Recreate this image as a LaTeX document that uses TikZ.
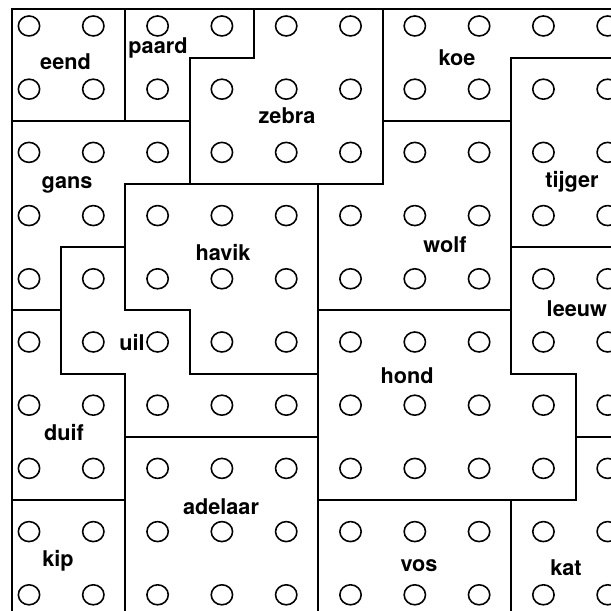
\documentclass[tikz,border=0pt]{standalone}
\usepackage{fontspec}
\setmainfont{TeX Gyre Heros}
\begin{document}
\begin{tikzpicture}[
  x=1.929cm, y=-1.896cm,
  wall/.style={line width=1.7pt, line join=miter},
  peg/.style={line width=1.35pt},
  lab/.style={font=\fontsize{18.5}{20}\selectfont\bfseries, anchor=base, inner sep=0pt}]
\useasboundingbox (-0.451,-0.411) rectangle (9.051,9.241);
\clip (-0.451,-0.411) rectangle (9.051,9.241);
\foreach \i in {0,...,9}
  \foreach \j in {0,...,9}
    \draw[peg] (\i,\j) ellipse[x radius=0.32cm, y radius=0.30cm];
\draw[wall] (-0.26,-0.27) rectangle (1.5,1.5);
\draw[wall] (1.5,-0.27) -- (3.5,-0.27) -- (3.5,0.5) -- (2.5,0.5) -- (2.5,1.5) -- (1.5,1.5) -- cycle;
\draw[wall] (3.5,-0.27) -- (5.5,-0.27) -- (5.5,2.5) -- (2.5,2.5) -- (2.5,0.5) -- (3.5,0.5) -- cycle;
\draw[wall] (5.5,-0.27) -- (9.7,-0.27) -- (9.7,0.5) -- (7.5,0.5) -- (7.5,1.5) -- (5.5,1.5) -- cycle;
\draw[wall] (7.5,0.5) rectangle (9.7,3.5);
\draw[wall] (-0.26,1.5) -- (2.5,1.5) -- (2.5,2.5) -- (1.5,2.5) -- (1.5,3.5) -- (0.5,3.5) -- (0.5,4.5) -- (-0.26,4.5) -- cycle;
\draw[wall] (1.5,2.5) -- (4.5,2.5) -- (4.5,5.5) -- (2.5,5.5) -- (2.5,4.5) -- (1.5,4.5) -- cycle;
\draw[wall] (5.5,1.5) -- (7.5,1.5) -- (7.5,4.5) -- (4.5,4.5) -- (4.5,2.5) -- (5.5,2.5) -- cycle;
\draw[wall] (7.5,3.5) -- (9.7,3.5) -- (9.7,6.5) -- (8.5,6.5) -- (8.5,5.5) -- (7.5,5.5) -- cycle;
\draw[wall] (0.5,3.5) -- (1.5,3.5) -- (1.5,4.5) -- (2.5,4.5) -- (2.5,5.5) -- (4.5,5.5) -- (4.5,6.5) -- (1.5,6.5) -- (1.5,5.5) -- (0.5,5.5) -- cycle;
\draw[wall] (-0.26,4.5) -- (0.5,4.5) -- (0.5,5.5) -- (1.5,5.5) -- (1.5,7.5) -- (-0.26,7.5) -- cycle;
\draw[wall] (4.5,4.5) -- (7.5,4.5) -- (7.5,5.5) -- (8.5,5.5) -- (8.5,7.5) -- (4.5,7.5) -- cycle;
\draw[wall] (1.5,6.5) rectangle (4.5,9.7);
\draw[wall] (-0.26,7.5) rectangle (1.5,9.7);
\draw[wall] (4.5,7.5) rectangle (7.5,9.7);
\draw[wall] (8.5,6.5) -- (9.7,6.5) -- (9.7,9.7) -- (7.5,9.7) -- (7.5,7.5) -- (8.5,7.5) -- cycle;
\node[lab] (eend) at (0.568,0.696) {eend};
\node[lab] (paard) at (2.006,0.443) {paard};
\node[lab] (zebra) at (4.012,1.551) {zebra};
\node[lab] (koe) at (6.656,0.633) {koe};
\node[lab] (tijger) at (8.445,2.563) {tijger};
\node[lab] (gans) at (0.591,2.579) {gans};
\node[lab] (havik) at (3.017,3.718) {havik};
\node[lab] (wolf) at (6.470,3.592) {wolf};
\node[lab] (leeuw) at (8.52,4.604) {leeuw};
\node[lab] (uil) at (1.602,5.127) {uil};
\node[lab] (duif) at (0.544,6.551) {duif};
\node[lab] (hond) at (5.879,5.649) {hond};
\node[lab] (adelaar) at (2.986,7.737) {adelaar};
\node[lab] (kip) at (0.451,8.56) {kip};
\node[lab] (vos) at (6.065,8.639) {vos};
\node[lab] (kat) at (8.351,8.687) {kat};
\end{tikzpicture}
\end{document}
